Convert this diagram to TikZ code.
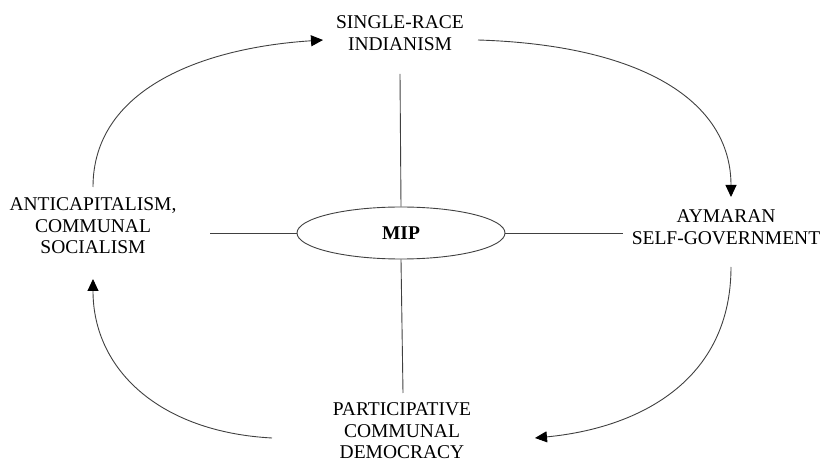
\documentclass[tikz,border=0pt]{standalone}
\usepackage{fontspec}
\setmainfont{Liberation Serif}
\usetikzlibrary{arrows.meta,shapes.geometric}
\begin{document}
\begin{tikzpicture}[x=1pt,y=-1pt,
  lbl/.style={align=center,font=\fontsize{19.5}{21.5}\selectfont,inner sep=0pt,text=black},
  conn/.style={draw=black!75,line width=0.9pt},
  arr/.style={conn,-{Triangle[length=12pt,width=11pt,color=black]}}]
\useasboundingbox (0,0) rectangle (828,462);
\node[lbl] (top) at (400,33) {SINGLE-RACE\\INDIANISM};
\node[lbl] (left) at (93,226) {ANTICAPITALISM,\\COMMUNAL\\SOCIALISM};
\node[lbl] (right) at (726,227) {AYMARAN\\SELF-GOVERNMENT};
\node[lbl] (bottom) at (402,431) {PARTICIPATIVE\\COMMUNAL\\DEMOCRACY};
\node[ellipse,draw=black!75,line width=0.9pt,minimum width=208pt,minimum height=52pt,inner sep=0pt,
  font=\fontsize{19.5}{21.5}\selectfont\bfseries] (mip) at (401,233) {MIP};
\coordinate (tS) at (400,74);
\coordinate (lS) at (210,233);
\coordinate (rS) at (623,233);
\coordinate (bS) at (403,393);
\draw[conn] (tS) -- (mip.north);
\draw[conn] (mip.south) -- (bS);
\draw[conn] (lS) -- (mip.west);
\draw[conn] (mip.east) -- (rS);
\coordinate (a1) at (93,187);
\coordinate (a2) at (323,40);
\coordinate (b1) at (478,40);
\coordinate (b2) at (731,197);
\coordinate (c1) at (731,267);
\coordinate (c2) at (535,438);
\coordinate (d1) at (272,438);
\coordinate (d2) at (93,279);
\draw[arr] (a1) .. controls (93,90) and (200,48) .. (a2);
\draw[arr] (b1) .. controls (640,45) and (731,100) .. (b2);
\draw[arr] (c1) .. controls (731,380) and (640,428) .. (c2);
\draw[arr] (d1) .. controls (160,432) and (93,370) .. (d2);
\end{tikzpicture}
\end{document}
